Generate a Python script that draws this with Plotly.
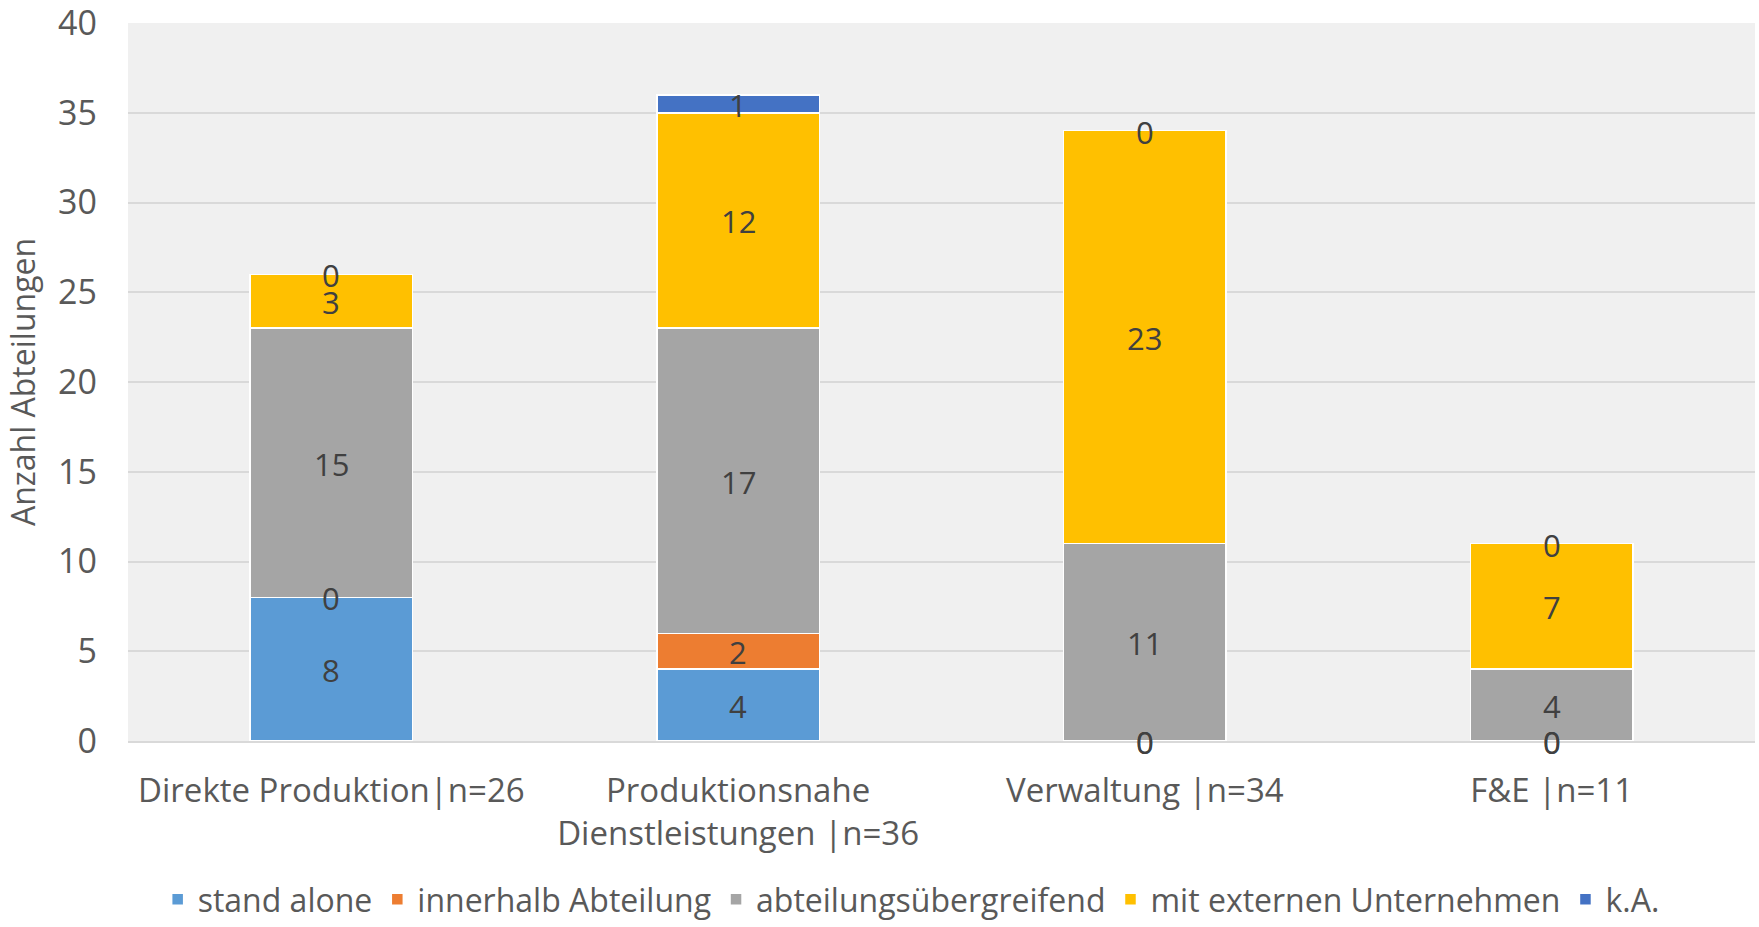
import plotly.graph_objects as go

categories = ["Direkte Produktion|n=26", "Produktionsnahe<br>Dienstleistungen |n=36",
              "Verwaltung |n=34", "F&E |n=11"]
series_names = ["stand alone", "innerhalb Abteilung", "abteilungsübergreifend",
                "mit externen Unternehmen", "k.A."]
stand_alone = [8, 4, 0, 0]
innerhalb = [0, 2, 0, 0]
uebergreifend = [15, 17, 11, 4]
extern = [3, 12, 23, 7]
ka = [0, 1, 0, 0]
series_values = [stand_alone, innerhalb, uebergreifend, extern, ka]
colors = ["#5B9BD5", "#ED7D31", "#A5A5A5", "#FFC000", "#4472C4"]
y_ticks = [0, 5, 10, 15, 20, 25, 30, 35, 40]

FONT = "Open Sans"
fig = go.Figure()
for name, vals, col in zip(series_names, series_values, colors):
    fig.add_trace(go.Bar(x=categories, y=vals, name=name,
                         marker=dict(color=col, line=dict(color="white", width=1.5))))

# data labels at segment centres (including zero-height segments)
base = [0] * len(categories)
for vals in series_values:
    for i, v in enumerate(vals):
        fig.add_annotation(x=categories[i], y=base[i] + v / 2, text=str(v),
                           showarrow=False, yshift=-1, xref="x", yref="y",
                           font=dict(family=FONT, size=31, color="#404040"))
        base[i] += v

fig.update_layout(
    barmode="stack", bargap=0.6,
    width=1759, height=927,
    margin=dict(l=128, r=4, t=23, b=186),
    paper_bgcolor="white", plot_bgcolor="#F0F0F0",
    font=dict(family=FONT, size=32, color="#595959"),
    legend=dict(orientation="h", x=0.518, xanchor="center", xref="container",
                y=-0.007, yanchor="bottom", yref="container",
                font=dict(family=FONT, size=32, color="#595959"),
                traceorder="normal", itemwidth=30),
    showlegend=True,
)
fig.update_xaxes(range=[-0.5, 3.5], showgrid=False, showline=True,
                 linecolor="#D9D9D9", linewidth=2, ticks="",
                 ticklabelstandoff=19, automargin=False,
                 tickfont=dict(family=FONT, size=33, color="#595959"))
fig.update_yaxes(range=[0, 40], tickvals=y_ticks, showgrid=True,
                 gridcolor="#D9D9D9", gridwidth=2, zeroline=False,
                 ticklabelstandoff=30, ticklabeloverflow="allow", automargin=False,
                 title=dict(text="Anzahl Abteilungen", standoff=12,
                            font=dict(family=FONT, size=32, color="#595959")),
                 tickfont=dict(family=FONT, size=34, color="#595959"))

fig.write_html("out.html")
